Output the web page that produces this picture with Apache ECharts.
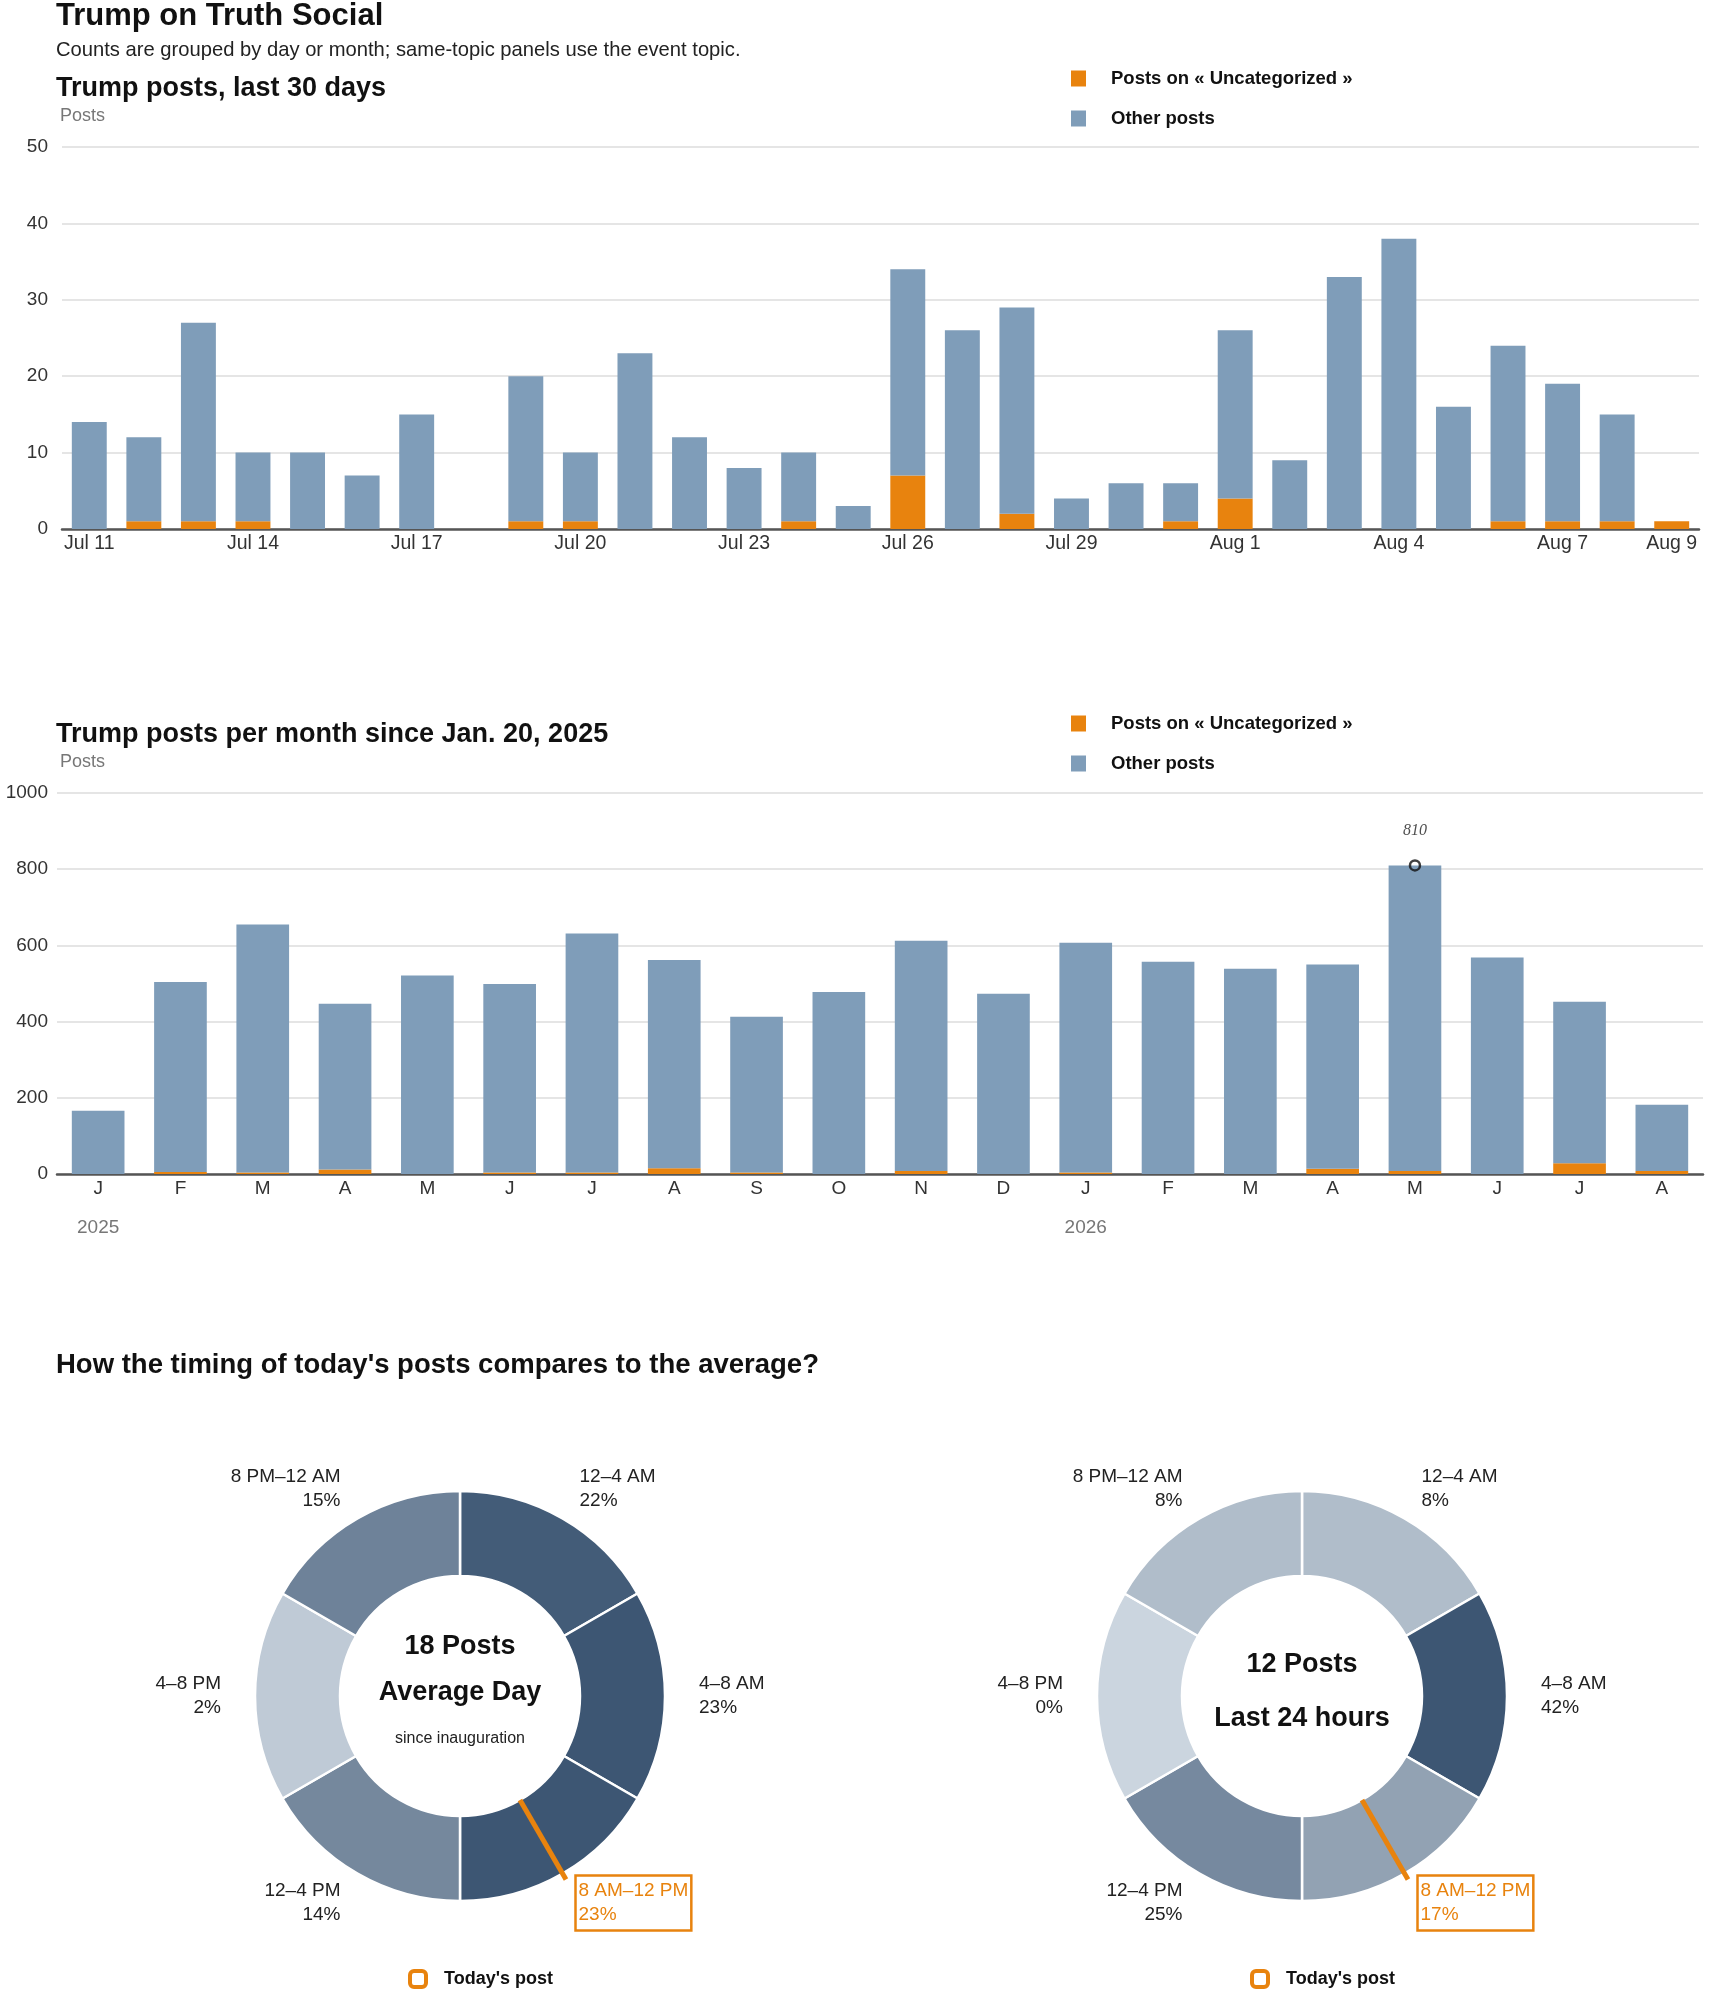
<!DOCTYPE html>
<html>
<head>
<meta charset="utf-8">
<title>Trump on Truth Social</title>
<script src="https://cdn.jsdelivr.net/npm/echarts@6/dist/echarts.min.js"></script>
<style>
  html, body { margin: 0; padding: 0; background: #fff; }
  #chart { width: 1710px; height: 1993px; }
</style>
</head>
<body>
<div id="chart"></div>
<script>
// last 30 days
var dayLabels = ['Jul 11', 'Jul 12', 'Jul 13', 'Jul 14', 'Jul 15', 'Jul 16', 'Jul 17', 'Jul 18', 'Jul 19', 'Jul 20',
    'Jul 21', 'Jul 22', 'Jul 23', 'Jul 24', 'Jul 25', 'Jul 26', 'Jul 27', 'Jul 28', 'Jul 29', 'Jul 30',
    'Jul 31', 'Aug 1', 'Aug 2', 'Aug 3', 'Aug 4', 'Aug 5', 'Aug 6', 'Aug 7', 'Aug 8', 'Aug 9'];
var dayTopic = [0, 1, 1, 1, 0, 0, 0, 0, 1, 1, 0, 0, 0, 1, 0, 7, 0, 2, 0, 0, 1, 4, 0, 0, 0, 0, 1, 1, 1, 1];
var dayOther = [14, 11, 26, 9, 10, 7, 15, 0, 19, 9, 23, 12, 8, 9, 3, 27, 26, 27, 4, 6, 5, 22, 9, 33, 38, 16, 23, 18, 14, 0];

// per month since Jan. 20, 2025
var monthLabels = ['J', 'F', 'M', 'A', 'M', 'J', 'J', 'A', 'S', 'O', 'N', 'D', 'J', 'F', 'M', 'A', 'M', 'J', 'J', 'A'];
var yearLabels = ['2025', '', '', '', '', '', '', '', '', '', '', '', '2026', '', '', '', '', '', '', ''];
var monthTopic = [0, 5, 4, 12, 0, 4, 4, 15, 4, 0, 8, 0, 4, 0, 0, 14, 8, 0, 28, 8];
var monthOther = [166, 499, 651, 435, 521, 495, 627, 547, 409, 478, 604, 473, 603, 557, 539, 536, 802, 568, 424, 174];

// timing of posts
var slotNames = ['12–4 AM', '4–8 AM', '8 AM–12 PM', '12–4 PM', '4–8 PM', '8 PM–12 AM'];
var slotHours = [4, 4, 4, 4, 4, 4];
var avgShare = [22, 23, 23, 14, 2, 15];
var lastShare = [8, 42, 17, 25, 0, 8];
var todaySlot = 2;
var avgPosts = 18;
var lastPosts = 12;

var ORANGE = '#e8830e';
var BLUE = '#7f9db9';
var FONT = "'Liberation Sans', Arial, sans-serif";
var TOPIC = 'Posts on « Uncategorized »';
var OTHER = 'Other posts';
var TODAY = "Today's post";

var monthTotal = monthTopic.map(function (v, i) { return v + monthOther[i]; });
var peak = Math.max.apply(null, monthTotal);
var peakMark = monthTotal.map(function (v) { return v === peak ? v : '-'; });

function shade(share, i) {
    var max = Math.max.apply(null, share);
    return echarts.color.lerp(share[i] / max, ['#cbd5df', '#3d5673']);
}

function donut(share, cx) {
    return {
        type: 'pie',
        center: [cx, 1696],
        radius: [120, 205],
        startAngle: 90,
        clockwise: true,
        silent: true,
        avoidLabelOverlap: false,
        itemStyle: { borderColor: '#fff', borderWidth: 2.5 },
        label: {
            show: true,
            position: 'outside',
            fontSize: 19,
            lineHeight: 24,
            color: '#222',
            formatter: function (p) { return slotNames[p.dataIndex] + '\n' + share[p.dataIndex] + '%'; }
        },
        labelLine: { show: false, length: 34, length2: -5 },
        emphasis: { disabled: true },
        data: slotNames.map(function (n, i) {
            var item = { name: n, value: slotHours[i], itemStyle: { color: shade(share, i) } };
            if (i === todaySlot) {
                item.label = { color: ORANGE, borderColor: ORANGE, borderWidth: 2.5, padding: [4, 3, 3, 3] };
                item.labelLine = { length2: -9 };
            }
            return item;
        })
    };
}

// transparent pie that only draws the orange marker line for the current slot
function marker(cx) {
    return {
        type: 'pie',
        z: 4,
        center: [cx, 1696],
        radius: [0, 120],
        startAngle: 90,
        clockwise: true,
        silent: true,
        avoidLabelOverlap: false,
        emphasis: { disabled: true },
        data: slotNames.map(function (n, i) {
            var on = i === todaySlot;
            return {
                name: on ? TODAY : n,
                value: slotHours[i],
                itemStyle: { color: 'rgba(0,0,0,0)' },
                label: { show: on, formatter: ' ' },
                labelLine: {
                    show: on, length: 92, length2: 0,
                    lineStyle: { color: ORANGE, width: 5 }
                }
            };
        })
    };
}

function barLegend(top) {
    return {
        data: [TOPIC, OTHER],
        orient: 'vertical',
        left: 1066,
        top: top,
        icon: 'rect',
        itemWidth: 15,
        itemHeight: 16,
        itemGap: 21,
        selectedMode: false,
        textStyle: { fontSize: 18.5, fontWeight: 'bold', color: '#111', padding: [0, 0, 0, 20] }
    };
}

function todayLegend(left) {
    return {
        data: [{ name: TODAY, itemStyle: { color: '#fff', borderColor: ORANGE, borderWidth: 4 } }],
        left: left,
        top: 1964,
        itemWidth: 16,
        itemHeight: 16,
        selectedMode: false,
        textStyle: { fontSize: 18, fontWeight: 'bold', color: '#111', padding: [0, 0, 0, 13] }
    };
}

function heading(text, top, size) {
    return {
        text: text, left: 56, top: top, padding: 0,
        textStyle: { fontSize: size, fontWeight: 'bold', color: '#111', lineHeight: size + 2 }
    };
}

var chart = echarts.init(document.getElementById('chart'));
chart.setOption({
    animation: false,
    backgroundColor: '#fff',
    textStyle: { fontFamily: FONT },
    title: [
        heading('Trump on Truth Social', 0, 31),
        { text: 'Counts are grouped by day or month; same-topic panels use the event topic.', left: 56, top: 40, padding: 0,
          textStyle: { fontSize: 20.2, fontWeight: 'normal', color: '#222', lineHeight: 20 } },
        heading('Trump posts, last 30 days', 74, 27),
        { text: 'Posts', left: 60, top: 106, padding: 0, textStyle: { fontSize: 18, fontWeight: 'normal', color: '#777', lineHeight: 20 } },
        heading('Trump posts per month since Jan. 20, 2025', 720, 27),
        { text: 'Posts', left: 60, top: 752, padding: 0, textStyle: { fontSize: 18, fontWeight: 'normal', color: '#777', lineHeight: 20 } },
        heading("How the timing of today's posts compares to the average?", 1351, 27.5),
        { text: '{b|' + avgPosts + ' Posts}\n{b|Average Day}\n{s|since inauguration}', left: 460, top: 1624, padding: 0, textAlign: 'center',
          textStyle: { rich: { b: { fontSize: 27, fontWeight: 'bold', color: '#111', lineHeight: 46 },
                               s: { fontSize: 16, fontWeight: 'normal', color: '#222', lineHeight: 46 } } } },
        { text: '{b|' + lastPosts + ' Posts}\n{b|Last 24 hours}', left: 1302, top: 1638, padding: 0, textAlign: 'center',
          textStyle: { rich: { b: { fontSize: 27, fontWeight: 'bold', color: '#111', lineHeight: 54 } } } }
    ],
    legend: [barLegend(64), barLegend(709), todayLegend(403), todayLegend(1245)],
    grid: [
        { left: 62, right: 11, top: 147, height: 382 },
        { left: 57, right: 7, top: 793, height: 381 }
    ],
    xAxis: [
        {
            type: 'category', gridIndex: 0, data: dayLabels,
            axisTick: { show: false },
            axisLine: { lineStyle: { color: '#555', width: 2.5 } },
            axisLabel: {
                color: '#333', fontSize: 19.5, margin: 5,
                interval: function (i) { return i % 3 === 0 || i === dayLabels.length - 1; }
            }
        },
        {
            type: 'category', gridIndex: 1, data: monthLabels,
            axisTick: { show: false },
            axisLine: { lineStyle: { color: '#555', width: 2.5 } },
            axisLabel: { color: '#333', fontSize: 19, margin: 5, interval: 0 }
        },
        {
            type: 'category', gridIndex: 1, data: yearLabels, position: 'bottom', offset: 39,
            axisTick: { show: false }, axisLine: { show: false },
            axisLabel: { color: '#777', fontSize: 19, margin: 5, interval: 0 }
        }
    ],
    yAxis: [
        {
            type: 'value', gridIndex: 0, min: 0, max: 50, interval: 10,
            axisLabel: { color: '#333', fontSize: 19, margin: 14 },
            splitLine: { lineStyle: { color: '#dcdcdc', width: 1.5 } }
        },
        {
            type: 'value', gridIndex: 1, min: 0, max: 1000, interval: 200,
            axisLabel: { color: '#333', fontSize: 19, margin: 9, formatter: function (v) { return String(v); } },
            splitLine: { lineStyle: { color: '#dcdcdc', width: 1.5 } }
        }
    ],
    series: [
        { name: TOPIC, type: 'bar', xAxisIndex: 0, yAxisIndex: 0, stack: 'day', barWidth: '64%',
          itemStyle: { color: ORANGE }, data: dayTopic, silent: true },
        { name: OTHER, type: 'bar', xAxisIndex: 0, yAxisIndex: 0, stack: 'day', barWidth: '64%',
          itemStyle: { color: BLUE }, data: dayOther, silent: true },
        { name: TOPIC, type: 'bar', xAxisIndex: 1, yAxisIndex: 1, stack: 'month', barWidth: '64%',
          itemStyle: { color: ORANGE }, data: monthTopic, silent: true },
        { name: OTHER, type: 'bar', xAxisIndex: 1, yAxisIndex: 1, stack: 'month', barWidth: '64%',
          itemStyle: { color: BLUE }, data: monthOther, silent: true },
        { name: 'peak', type: 'scatter', xAxisIndex: 1, yAxisIndex: 1, data: peakMark, silent: true,
          symbol: 'circle', symbolSize: 10, z: 5,
          itemStyle: { color: 'rgba(0,0,0,0)', borderColor: '#111', borderWidth: 2.5 },
          label: { show: true, position: 'top', distance: 20, color: '#222', fontSize: 16,
                   fontStyle: 'italic', fontFamily: "'Liberation Serif', serif" } },
        donut(avgShare, 460),
        marker(460),
        donut(lastShare, 1302),
        marker(1302)
    ]
});
</script>
</body>
</html>
